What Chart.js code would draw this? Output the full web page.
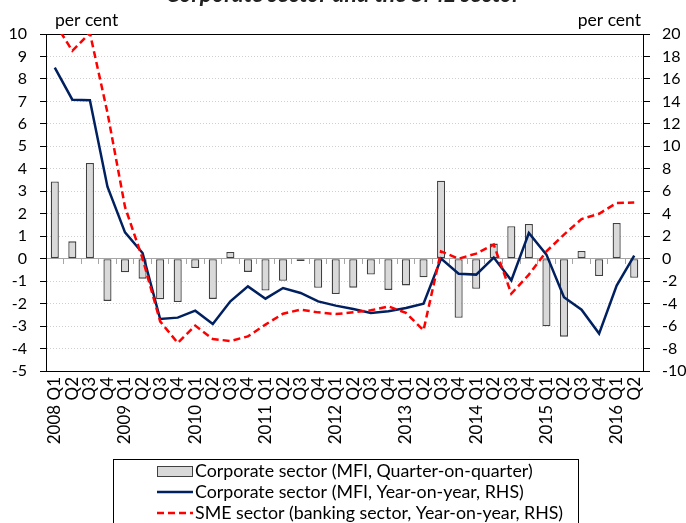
<!DOCTYPE html>
<html>
<head>
<meta charset="utf-8">
<script src="https://cdn.jsdelivr.net/npm/chart.js@4.4.1/dist/chart.umd.min.js"></script>
<style>
  html, body { margin: 0; padding: 0; background: #fff; }
  #c { display: block; }
</style>
</head>
<body>
<canvas id="c" width="686" height="523"></canvas>
<script>
// ---- data ----
const categories = [
  "2008 Q1","Q2","Q3","Q4",
  "2009 Q1","Q2","Q3","Q4",
  "2010 Q1","Q2","Q3","Q4",
  "2011 Q1","Q2","Q3","Q4",
  "2012 Q1","Q2","Q3","Q4",
  "2013 Q1","Q2","Q3","Q4",
  "2014 Q1","Q2","Q3","Q4",
  "2015 Q1","Q2","Q3","Q4",
  "2016 Q1","Q2"
];
// Corporate sector (MFI, quarter-on-quarter), left axis
const corpQoQ = [3.44,0.77,4.26,-1.88,-0.61,-0.89,-1.81,-1.93,-0.42,-1.79,0.30,-0.59,
  -1.42,-0.98,-0.10,-1.30,-1.57,-1.29,-0.71,-1.39,-1.19,-0.83,3.47,-2.63,
  -1.34,0.67,1.44,1.54,-3.01,-3.47,0.34,-0.77,1.59,-0.85];
// Corporate sector (MFI, year-on-year), right axis
const corpYoY = [17.0,14.15,14.1,6.4,2.34,0.5,-5.37,-5.25,-4.63,-5.81,-3.8,-2.47,
  -3.56,-2.61,-3.05,-3.8,-4.18,-4.48,-4.83,-4.69,-4.39,-4.0,0.0,-1.34,
  -1.42,0.1,-1.93,2.29,0.36,-3.44,-4.54,-6.67,-2.4,0.27];
// SME sector (banking sector, year-on-year), right axis
const smeYoY = [21.0,18.5,20.1,13.0,4.6,0.0,-5.58,-7.5,-5.96,-7.15,-7.33,-6.92,
  -5.87,-4.9,-4.54,-4.78,-4.93,-4.78,-4.6,-4.25,-4.83,-6.38,0.65,0.0,
  0.45,1.25,-3.12,-1.42,0.65,2.14,3.53,4.0,4.96,5.0];
const seriesNames = [
  "Corporate sector (MFI, Quarter-on-quarter)",
  "Corporate sector (MFI, Year-on-year, RHS)",
  "SME sector (banking sector, Year-on-year, RHS)"
];
const unitLabel = "per cent";
const titleText = "Corporate sector and the SME sector";

// ---- styling ----
const FONT = 'Lato, "Liberation Sans", sans-serif';
const yTickFont = { family: FONT, size: 16 };
const xTickFont = { family: FONT, size: 17 };

const extras = {
  id: 'extras',
  afterDraw(chart) {
    const ctx = chart.ctx;
    const a = chart.chartArea;
    ctx.save();
    // cut-off title
    ctx.fillStyle = '#222';
    ctx.font = 'italic bold 23px ' + FONT;
    ctx.textAlign = 'center';
    ctx.textBaseline = 'alphabetic';
    ctx.fillText(titleText, 343, 2);
    // unit labels
    ctx.fillStyle = '#000';
    ctx.font = '17.5px ' + FONT;
    ctx.textBaseline = 'middle';
    ctx.textAlign = 'left';
    ctx.fillText(unitLabel, a.left + 9, 20);
    ctx.textAlign = 'right';
    ctx.fillText(unitLabel, a.right - 2, 20);
    // legend box
    ctx.strokeStyle = '#000';
    ctx.lineWidth = 1;
    ctx.strokeRect(113.5, 459.5, 465, 90);
    const rows = [471, 492, 513];
    const sx = 157, sw = 36;
    chart.data.datasets.forEach((ds, i) => {
      const y = rows[i];
      if (ds.type === 'bar') {
        ctx.fillStyle = ds.backgroundColor;
        ctx.fillRect(sx, y - 5, sw, 10);
        ctx.strokeStyle = ds.borderColor;
        ctx.lineWidth = 1;
        ctx.strokeRect(sx + 0.5, y - 4.5, sw - 1, 10);
      } else {
        ctx.strokeStyle = ds.borderColor;
        ctx.lineWidth = ds.borderWidth;
        ctx.setLineDash(ds.borderDash || []);
        ctx.beginPath();
        ctx.moveTo(sx, y);
        ctx.lineTo(sx + sw, y);
        ctx.stroke();
        ctx.setLineDash([]);
      }
      ctx.fillStyle = '#000';
      ctx.font = '17.8px ' + FONT;
      ctx.textAlign = 'left';
      ctx.textBaseline = 'middle';
      ctx.fillText(ds.label, sx + sw + 2, y);
    });
    ctx.restore();
  }
};

new Chart(document.getElementById('c'), {
  data: {
    labels: categories,
    datasets: [
      {
        type: 'bar', label: seriesNames[0], data: corpQoQ,
        xAxisID: 'x', yAxisID: 'y',
        backgroundColor: '#d9d9d9', borderColor: '#404040', borderWidth: 1.3,
        borderSkipped: false,
        barPercentage: 0.46, categoryPercentage: 1, order: 3
      },
      {
        type: 'line', label: seriesNames[1], data: corpYoY,
        xAxisID: 'x', yAxisID: 'y2',
        borderColor: '#002060', borderWidth: 2.5, pointRadius: 0, tension: 0,
        fill: false, order: 2
      },
      {
        type: 'line', label: seriesNames[2], data: smeYoY,
        xAxisID: 'x', yAxisID: 'y2',
        borderColor: '#ff0000', borderWidth: 2.5, borderDash: [7, 4], pointRadius: 0, tension: 0,
        fill: false, order: 1
      }
    ]
  },
  options: {
    responsive: false,
    animation: false,
    devicePixelRatio: 1,
    layout: { padding: { top: 34, left: 0, right: 0, bottom: 0 } },
    plugins: { legend: { display: false }, tooltip: { enabled: false }, title: { display: false } },
    scales: {
      x: {
        type: 'category', position: 'bottom', offset: true,
        grid: { display: false, drawTicks: false, offset: true },
        border: { display: true, color: '#000', width: 1 },
        ticks: { autoSkip: false, minRotation: 90, maxRotation: 90, font: xTickFont, color: '#000', padding: 6 },
        afterFit(s) { s.height = 152; }
      },
      xTop: {
        type: 'category', position: 'top', offset: true,
        grid: { display: false, drawTicks: false },
        border: { display: true, color: '#000', width: 1 },
        ticks: { display: false },
        afterFit(s) { s.height = 0; }
      },
      x0: {
        type: 'category', position: { y: 0 }, offset: true,
        grid: { display: true, drawOnChartArea: false, drawTicks: true, offset: true, tickLength: 5, tickColor: '#a6a6a6', tickWidth: 1 },
        border: { display: true, color: '#a6a6a6', width: 1 },
        ticks: { display: false }
      },
      y: {
        position: 'left', min: -5, max: 10,
        ticks: { stepSize: 1, font: yTickFont, color: '#000', padding: 13 },
        grid: {
          color: (c) => (c.tick && (c.tick.value === 10 || c.tick.value === -5 || c.tick.value === 0)) ? 'rgba(0,0,0,0)' : '#d0d0d0',
          tickColor: '#000', tickLength: 6, lineWidth: 1, tickWidth: 1
        },
        border: { display: true, color: '#000', width: 1, dash: [1, 2] },
        afterFit(s) { s.width = 46; }
      },
      y2: {
        position: 'right', min: -10, max: 20,
        ticks: { stepSize: 2, font: yTickFont, color: '#000', padding: 12 },
        grid: { drawOnChartArea: false, tickColor: '#000', tickLength: 7, tickWidth: 1 },
        border: { display: true, color: '#000', width: 1 },
        afterFit(s) { s.width = 43; }
      }
    }
  },
  plugins: [extras]
});
</script>
</body>
</html>
